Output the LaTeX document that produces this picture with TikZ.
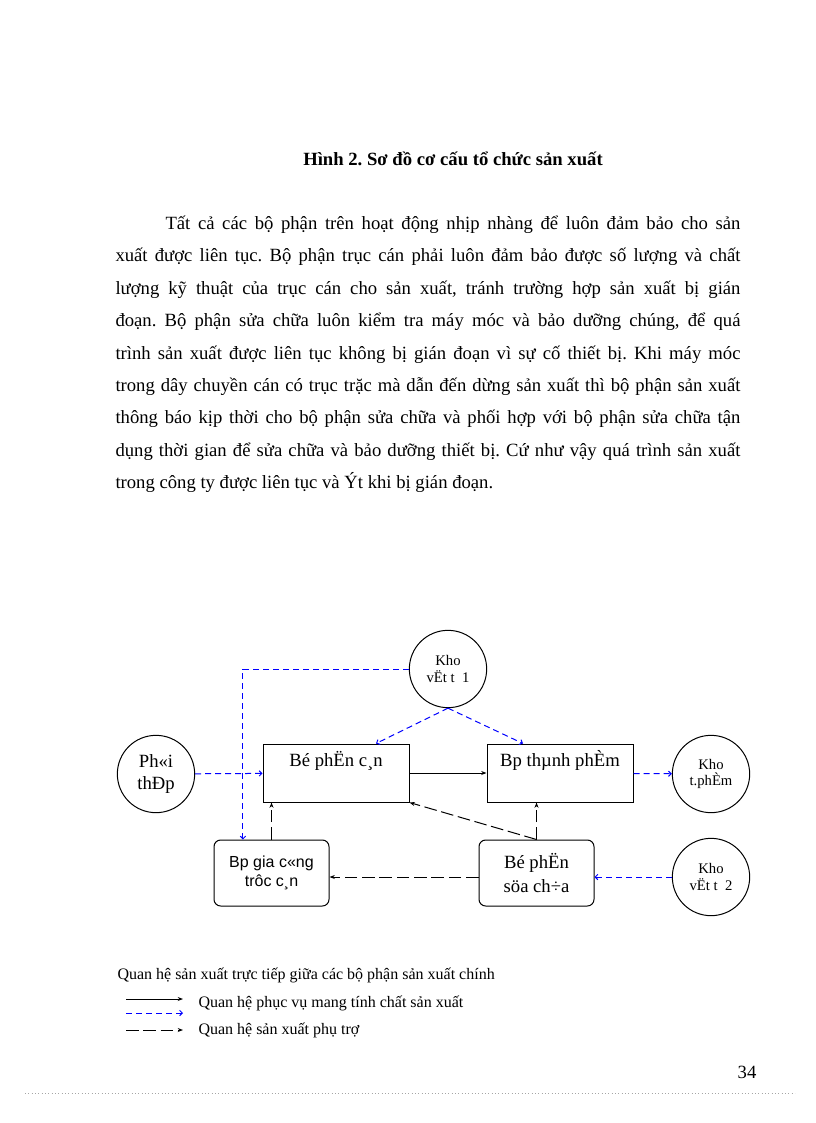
\documentclass[tikz,border=0pt]{standalone}
\usepackage{fontspec}
\setmainfont{Liberation Serif}
\newfontfamily\giacongfont{Liberation Sans}
\usetikzlibrary{arrows.meta}
\frenchspacing

\tikzset{every picture/.style={line width=0.75pt}}
\tikzset{
  kho/.style={draw, circle, minimum size=58pt, inner sep=0pt, align=center},
  bophan/.style={draw, minimum width=109.5pt, minimum height=43.5pt, inner sep=0pt},
  phutrobox/.style={draw, rounded corners=5pt, minimum width=86.25pt, minimum height=49.5pt, inner sep=0pt, align=center},
  tructiep/.style={-{Stealth[length=4pt,width=3pt]}},
  phucvu/.style={blue, dash pattern=on 4.5pt off 3pt, -{Straight Barb[length=2pt,width=4pt]}},
  phutro/.style={dash pattern=on 9.5pt off 3.5pt, -{Stealth[length=4pt,width=3pt]}},
}

\begin{document}
\begin{tikzpicture}[x=0.75pt,y=0.75pt,yscale=-1,xscale=1]
\path[use as bounding box] (0,0) rectangle (816,1123); %page of 816 x 1123

% Text Node
\node[anchor=base, inner sep=0pt, font=\bfseries\fontsize{14}{16}\selectfont] (title) at (453,166) {Hình 2. Sơ đồ cơ cấu tổ chức sản xuất};
% Text Node
\node[anchor=base west, inner sep=0pt] (para) at (115,229.5) {\fontsize{14}{24.3}\selectfont\parbox[t]{468.75pt}{\tolerance=10000\emergencystretch=20pt\hspace*{37.5pt}Tất cả các bộ phận trên hoạt động nhịp nhàng để luôn đảm bảo cho sản\linebreak
xuất được liên tục. Bộ phận trục cán phải luôn đảm bảo được số lượng và chất\linebreak
lượng kỹ thuật của trục cán cho sản xuất, tránh trường hợp sản xuất bị gián\linebreak
đoạn. Bộ phận sửa chữa luôn kiểm tra máy móc và bảo dưỡng chúng, để quá\linebreak
trình sản xuất được liên tục không bị gián đoạn vì sự cố thiết bị. Khi máy móc\linebreak
trong dây chuyền cán có trục trặc mà dẫn đến dừng sản xuất thì bộ phận sản xuất\linebreak
thông báo kịp thời cho bộ phận sửa chữa và phối hợp với bộ phận sửa chữa tận\linebreak
dụng thời gian để sửa chữa và bảo dưỡng thiết bị. Cứ như vậy quá trình sản xuất\linebreak
trong công ty được liên tục và Ýt khi bị gián đoạn.}};

%Shape: Circle [kho vat tu 1]
\node[kho, font=\fontsize{11}{12.75}\selectfont] (kho1) at (448,669) {Kho\\vËt t\ \ 1};
%Shape: Circle [phoi thep]
\node[kho, font=\fontsize{14}{16.5}\selectfont] (phoi) at (156,774) {Ph«i\\thÐp};
%Shape: Rectangle [bo phan can]
\node[bophan] (can) at (336,773) {};
%Shape: Rectangle [bp thanh pham]
\node[bophan] (tp) at (560,773) {};
%Shape: Circle [kho thanh pham]
\node[kho, font=\fontsize{11}{12}\selectfont] (khotp) at (711,774) {Kho\\t.phÈm};
%Rounded Rect [bp gia cong]
\node[phutrobox, font=\giacongfont\fontsize{12}{14.25}\selectfont] (gc) at (271.5,873) {Bp gia c«ng\\trôc c¸n};
%Rounded Rect [bo phan sua chua]
\node[phutrobox, font=\fontsize{14}{18}\selectfont] (sc) at (536.5,873) {Bé phËn\\söa ch÷a};
%Shape: Circle [kho vat tu 2]
\node[kho, font=\fontsize{11}{12.75}\selectfont] (kho2) at (711,877) {Kho\\vËt t\ \ 2};

% Text Node
\node[anchor=base, inner sep=0pt, font=\fontsize{14}{16}\selectfont] (cantext) at (336,766) {Bé phËn c¸n};
% Text Node
\node[anchor=base, inner sep=0pt, font=\fontsize{14}{16}\selectfont] (tptext) at (560,766) {Bp thµnh phÈm};

\draw[phucvu] (phoi) -- (can);
\draw[phucvu] (kho1.south) -- ([xshift=30pt]can.north);
\draw[phucvu] (kho1.south) -- ([xshift=-27.75pt]tp.north);
\draw[phucvu] (kho1.west) -| ([xshift=-21.4pt]gc.north);
\draw[tructiep] (can) -- (tp);
\draw[phucvu] (tp) -- (khotp);
\draw[phutro] (gc.north) -- (gc.north |- can.south);
\draw[phutro] (sc.north) -- (can.south east);
\draw[phutro] (sc.north) -- (sc.north |- tp.south);
\draw[phutro] (sc.west |- kho2) -- (gc.east |- kho2);
\draw[phucvu] (kho2) -- (sc.east |- kho2);

% Legend
\node[anchor=base west, inner sep=0pt, font=\fontsize{12}{14}\selectfont] (legtt) at (117,979) {Quan hệ sản xuất trực tiếp giữa các bộ phận sản xuất chính};
\coordinate (tt1) at (126,999);
\coordinate (tt2) at (183,999);
\draw[tructiep] (tt1) -- (tt2);
\coordinate (pv1) at (126,1013);
\coordinate (pv2) at (183,1013);
\draw[phucvu] (pv1) -- (pv2);
\coordinate (pt1) at (126,1030);
\coordinate (pt2) at (183,1030);
\draw[phutro] (pt1) -- (pt2);
\node[anchor=base west, inner sep=0pt, font=\fontsize{12}{14}\selectfont] (legpv) at (198,1007) {Quan hệ phục vụ mang tính chất sản xuất};
\node[anchor=base west, inner sep=0pt, font=\fontsize{12}{14}\selectfont] (legpt) at (198,1034) {Quan hệ sản xuất phụ trợ};

% Text Node
\node[anchor=base, inner sep=0pt, font=\fontsize{14}{16}\selectfont] (trang) at (747,1078) {34};
%Shape: dotted page line
\draw[black!35, dotted, line width=0.5pt] (25,1093) -- (795,1093);

\end{tikzpicture}
\end{document}
